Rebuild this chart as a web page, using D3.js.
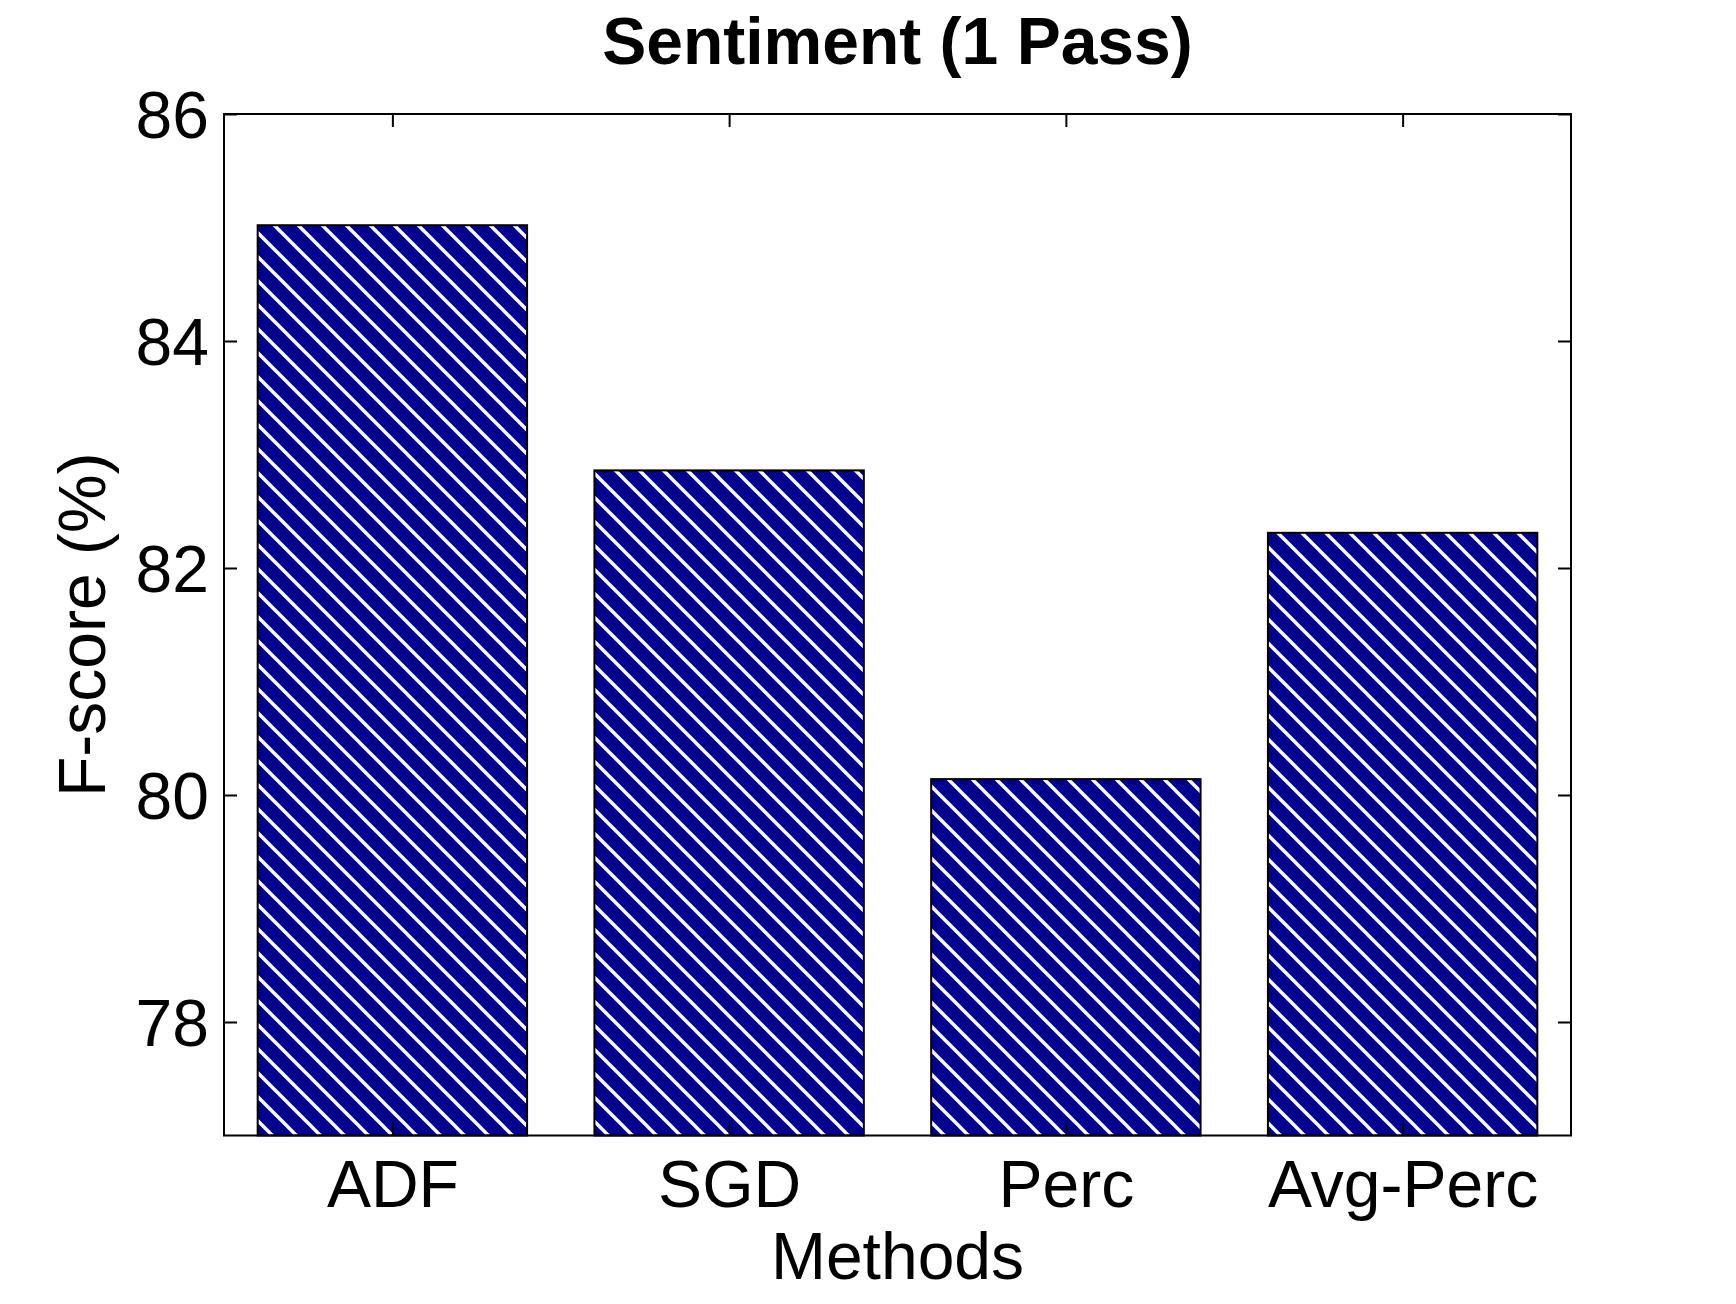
<!DOCTYPE html>
<html>
<head>
<meta charset="utf-8">
<script src="https://cdn.jsdelivr.net/npm/d3@7"></script>
<style>
  html, body { margin: 0; padding: 0; background: #fff; }
  svg { display: block; }
  text { font-family: "Liberation Sans", Arial, Helvetica, sans-serif; fill: #000; }
</style>
</head>
<body>
<script>
const categories = ["ADF", "SGD", "Perc", "Avg-Perc"];
const values = [85.02, 82.86, 80.14, 82.31];
const yTicks = [78, 80, 82, 84, 86];
const titleText = "Sentiment (1 Pass)";
const xLabel = "Methods";
const yLabel = "F-score (%)";

const W = 1736, H = 1304;
const L = 224, R = 1571, T = 114, B = 1135.5;
const barColor = "#00008f";
const fs = 66;

const svg = d3.select("body").append("svg").attr("width", W).attr("height", H);

// hatch pattern
const defs = svg.append("defs");
const pat = defs.append("pattern")
  .attr("id", "hatch")
  .attr("patternUnits", "userSpaceOnUse")
  .attr("width", 24).attr("height", 24)
  .attr("patternTransform", "translate(1,0)");
pat.append("rect").attr("width", 24).attr("height", 24).attr("fill", barColor);
pat.append("path")
  .attr("d", "M-24,-24 L48,48 M0,-24 L48,24 M-24,0 L24,48")
  .attr("stroke", "#fff").attr("stroke-width", 3.4).attr("fill", "none");

const x = d3.scaleLinear().domain([0.5, categories.length + 0.5]).range([L, R]);
const y = d3.scaleLinear().domain([77, 86]).range([B, T]);
const bw = (x(1.4) - x(0.6));

// bars
svg.append("g").selectAll("rect").data(values).join("rect")
  .attr("x", (d, i) => x(i + 1) - bw / 2)
  .attr("y", d => y(d))
  .attr("width", bw)
  .attr("height", d => y(77) - y(d))
  .attr("fill", "url(#hatch)")
  .attr("stroke", "#000").attr("stroke-width", 2);

// axes box
svg.append("rect").attr("x", L).attr("y", T).attr("width", R - L).attr("height", B - T)
  .attr("fill", "none").attr("stroke", "#000").attr("stroke-width", 2);

const tickLen = 13;
// y ticks (left and right, inward)
const yAxisL = d3.axisLeft(y).tickValues(yTicks).tickSize(-tickLen).tickPadding(15).tickFormat(d3.format("d"));
const gL = svg.append("g").attr("transform", `translate(${L},0)`).call(yAxisL);
gL.select(".domain").remove();
gL.selectAll(".tick line").attr("stroke", "#000").attr("stroke-width", 2);
gL.selectAll(".tick text").attr("font-size", fs).attr("dy", null).attr("dominant-baseline", "central")
  .attr("font-family", "'Liberation Sans', Arial, sans-serif").attr("fill", "#000");

const yAxisR = d3.axisRight(y).tickValues(yTicks).tickSize(-tickLen).tickFormat("");
const gR = svg.append("g").attr("transform", `translate(${R},0)`).call(yAxisR);
gR.select(".domain").remove();
gR.selectAll(".tick line").attr("stroke", "#000").attr("stroke-width", 2);

// x ticks (bottom and top, inward)
const xAxisB = d3.axisBottom(x).tickValues(d3.range(1, categories.length + 1))
  .tickSize(-tickLen).tickPadding(22).tickFormat((d) => categories[d - 1]);
const gB = svg.append("g").attr("transform", `translate(0,${B})`).call(xAxisB);
gB.select(".domain").remove();
gB.selectAll(".tick line").attr("stroke", "#000").attr("stroke-width", 2);
gB.selectAll(".tick text").attr("font-size", fs).attr("dy", null).attr("y", null)
  .attr("transform", "translate(0,71)")
  .attr("font-family", "'Liberation Sans', Arial, sans-serif").attr("fill", "#000");

const xAxisT = d3.axisTop(x).tickValues(d3.range(1, categories.length + 1)).tickSize(-tickLen).tickFormat("");
const gT = svg.append("g").attr("transform", `translate(0,${T})`).call(xAxisT);
gT.select(".domain").remove();
gT.selectAll(".tick line").attr("stroke", "#000").attr("stroke-width", 2);

// title
svg.append("text").attr("x", (L + R) / 2).attr("y", 64).attr("text-anchor", "middle")
  .attr("font-size", fs).attr("font-weight", "bold").text(titleText);

// x label
svg.append("text").attr("x", (L + R) / 2).attr("y", 1279).attr("text-anchor", "middle")
  .attr("font-size", fs).text(xLabel);

// y label
svg.append("text").attr("transform", `translate(105,${(T + B) / 2}) rotate(-90)`)
  .attr("text-anchor", "middle").attr("font-size", fs).text(yLabel);
</script>
</body>
</html>
